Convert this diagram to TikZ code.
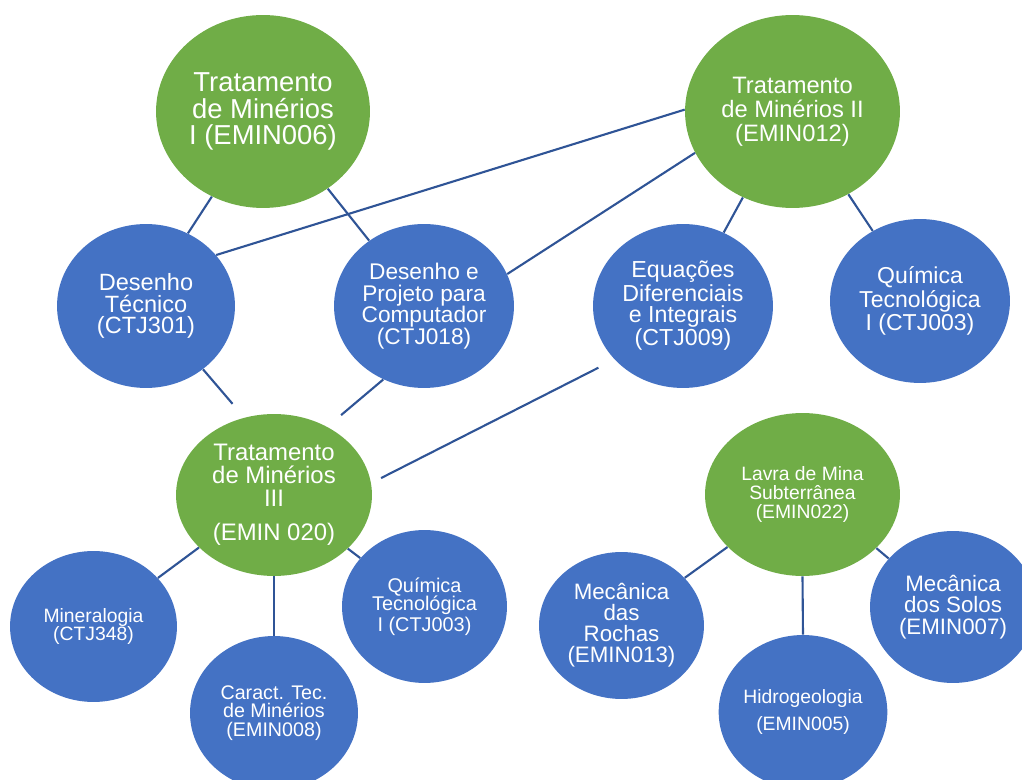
\documentclass[tikz,border=0pt]{standalone}
\usepackage{fontspec}
\setmainfont{Liberation Sans}
\usetikzlibrary{shapes.geometric}
\definecolor{verdeoffice}{HTML}{70AD47}
\definecolor{azuloffice}{HTML}{4472C4}
\definecolor{linhaazul}{HTML}{2F5496}
\newcommand{\tam}[2]{\fontsize{#1}{#2}\selectfont}
\tikzset{
	materia/.style={ellipse, draw=none, text=white, align=center, inner sep=0pt},
	verde/.style={materia, fill=verdeoffice},
	azul/.style={materia, fill=azuloffice},
	raio/.style 2 args={minimum width=0.04cm*#1, minimum height=0.04cm*#2},
	liga/.style={draw=linhaazul, line width=1.2pt}
}
\begin{document}
\begin{tikzpicture}[x=0.02cm,y=-0.02cm]
			\useasboundingbox (0,0) rectangle (1022,780);
			\clip (0,0) rectangle (1022,780);
			% pre-requisitos (verde)
			\node[verde, raio={107}{96.5}, font=\tam{15.6}{15.1}] (tmI) at (263,111.5) {Tratamento\\de Minérios\\I (EMIN006)};
			\node[verde, raio={107.5}{96.5}, font=\tam{13.5}{13.7}] (tmII) at (792.5,111.5) {Tratamento\\de Minérios II\\(EMIN012)};
			\node[verde, raio={98}{81}, font=\tam{13.6}{13.1}] (tmIII) at (274,495) {Tratamento\\de Minérios\\III\\[6pt](EMIN 020)};
			\node[verde, raio={97.5}{81.5}, font=\tam{11}{10.8}] (lavra) at (802.5,494.5) {Lavra de Mina\\Subterrânea\\(EMIN022)};
			% disciplinas (azul)
			\node[azul, raio={89}{82}, font=\tam{13.4}{12.3}] (dtec) at (146,306) {Desenho\\Técnico\\(CTJ301)};
			\node[azul, raio={90}{82}, font=\tam{12.9}{12.2}] (dproj) at (424,306) {Desenho e\\Projeto para\\Computador\\(CTJ018)};
			\node[azul, raio={90}{82}, font=\tam{13.2}{12}] (equa) at (683,306) {Equações\\Diferenciais\\e Integrais\\(CTJ009)};
			\node[azul, raio={90}{82}, font=\tam{13.1}{12}] (quimA) at (920,301) {Química\\Tecnológica\\I (CTJ003)};
			\node[azul, raio={83.5}{75.5}, font=\tam{11}{10.8}] (miner) at (93.5,626.5) {Mineralogia\\(CTJ348)};
			\node[azul, raio={84}{77}, font=\tam{11.2}{10.5}] (caract) at (274,713) {Caract. Tec.\\de Minérios\\(EMIN008)};
			\node[azul, raio={82.5}{76.5}, font=\tam{11.3}{10.5}] (quimB) at (424.5,606.5) {Química\\Tecnológica\\I (CTJ003)};
			\node[azul, raio={82.5}{73.5}, font=\tam{12.7}{12}] (mecR) at (621.5,625.5) {Mecânica\\das\\Rochas\\(EMIN013)};
			\node[azul, raio={83}{77}, font=\tam{11}{14.8}] (hidro) at (803,712) {Hidrogeologia\\(EMIN005)};
			\node[azul, raio={83}{76}, font=\tam{12.7}{12.2}] (mecS) at (953,607) {Mecânica\\dos Solos\\(EMIN007)};
			% ligacoes
			\draw[liga] (tmI.239) -- (dtec.60);
			\draw[liga] (tmI.310) -- (dproj.130);
			\draw[liga] (tmII.179) -- (dtec.36);
			\draw[liga] (tmII.203) -- (dproj.21);
			\draw[liga] (tmII.240) -- (equa.61);
			\draw[liga] (tmII.304) -- (quimA.124);
			\draw[liga, shorten >=0.36cm] (dtec.312) -- (tmIII.111);
			\draw[liga, shorten >=0.36cm] (dproj.241) -- (tmIII.52);
			\draw[liga, shorten <=0.36cm, shorten >=0.22cm] (equa.218) -- (tmIII.7);
			\draw[liga] (tmIII.215) -- (miner.37);
			\draw[liga] (tmIII.270) -- (caract.90);
			\draw[liga] (tmIII.324) -- (quimB.143);
			\draw[liga] (lavra.215) -- (mecR.37);
			\draw[liga] (lavra.270) -- (hidro.90);
			\draw[liga] (lavra.324) -- (mecS.143);
		\end{tikzpicture}
\end{document}
